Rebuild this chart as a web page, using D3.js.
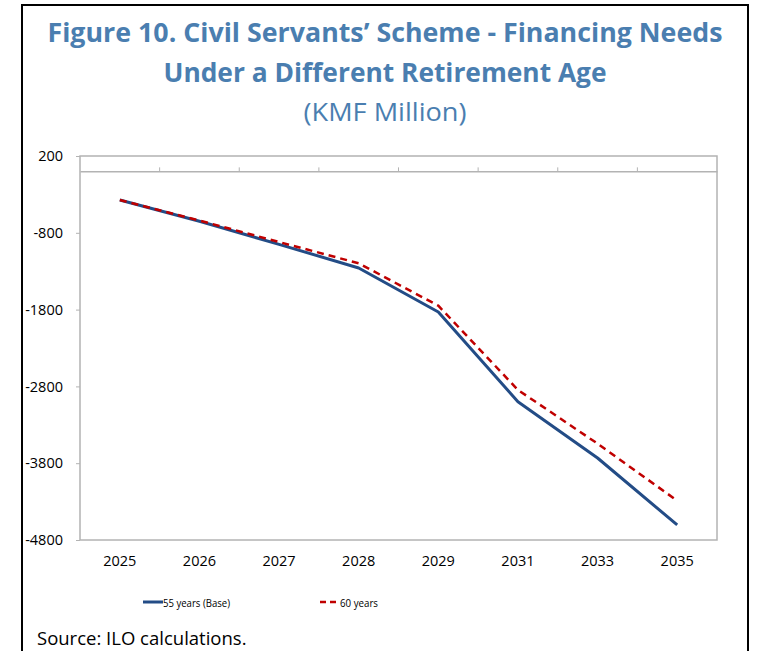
<!DOCTYPE html>
<html>
<head>
<meta charset="utf-8">
<script src="https://cdn.jsdelivr.net/npm/d3@7"></script>
<style>
  body { margin: 0; background: #fff; }
  svg { display: block; }
</style>
</head>
<body>
<div class="chart"></div>
<script>
// data
const years = ["2025", "2026", "2027", "2028", "2029", "2031", "2033", "2035"];
const base55 = [-372, -650, -950, -1258, -1831, -3000, -3732, -4604];
const age60 = [-372, -640, -920, -1197, -1749, -2846, -3545, -4288];
const y_ticks = [200, -800, -1800, -2800, -3800, -4800];

const W = 760, H = 651;
const plot = { left: 80, right: 717, top: 156, bottom: 540 };

const title_color = "#4a7eb0";
const font = "'Open Sans', 'Noto Sans', sans-serif";

const svg = d3.select(".chart")
    .append("svg")
    .attr("width", W)
    .attr("height", H);

// outer frame (bottom runs off the page)
svg.append("path")
    .attr("d", "M22,700 L22,5 L748,5 L748,700")
    .attr("fill", "none")
    .attr("stroke", "#000")
    .attr("stroke-width", 2);

// titles
const titles = [
    { text: "Figure 10. Civil Servants’ Scheme - Financing Needs", y: 42, weight: 700, size: 27, len: 675 },
    { text: "Under a Different Retirement Age", y: 82, weight: 700, size: 27, len: 443 },
    { text: "(KMF Million)", y: 121, weight: 400, size: 26, len: 163 }
];
svg.selectAll("text.title")
    .data(titles)
    .enter()
    .append("text")
    .attr("class", "title")
    .attr("x", 385)
    .attr("y", d => d.y)
    .attr("text-anchor", "middle")
    .attr("textLength", d => d.len)
    .attr("lengthAdjust", "spacingAndGlyphs")
    .style("font-family", font)
    .style("font-size", d => d.size + "px")
    .style("font-weight", d => d.weight)
    .style("fill", title_color)
    .text(d => d.text);

// scales
const x_band = d3.scaleBand()
    .domain(years)
    .range([plot.left, plot.right]);

const y_scale = d3.scaleLinear()
    .domain([-4800, 200])
    .range([plot.bottom, plot.top]);

const x_point = d => x_band(d) + x_band.bandwidth() / 2;

// plot frame
svg.append("rect")
    .attr("x", plot.left)
    .attr("y", plot.top)
    .attr("width", plot.right - plot.left)
    .attr("height", plot.bottom - plot.top)
    .attr("fill", "none")
    .attr("stroke", "#b3b3b3")
    .attr("stroke-width", 1.5);

// y axis (hyphen as minus, like the original)
const y_axis = svg.append("g")
    .attr("transform", `translate(${plot.left},0)`)
    .call(d3.axisLeft(y_scale)
        .tickValues(y_ticks)
        .tickSize(4)
        .tickPadding(13)
        .tickFormat(d => String(d)));
y_axis.select(".domain").remove();
y_axis.selectAll("line").attr("stroke", "#b3b3b3");
y_axis.selectAll("text")
    .style("font-family", font)
    .style("font-size", "14.5px")
    .style("fill", "#000");

// zero line with category ticks pointing up
const zero_axis = svg.append("g")
    .attr("transform", `translate(0,${y_scale(0)})`)
    .call(d3.axisTop(x_band).tickSize(0).tickFormat(""));
zero_axis.select(".domain")
    .attr("stroke", "#b3b3b3")
    .attr("stroke-width", 1.5);
zero_axis.selectAll(".cat_tick")
    .data(years.slice(1))
    .enter()
    .append("line")
    .attr("class", "cat_tick")
    .attr("x1", d => x_band(d))
    .attr("x2", d => x_band(d))
    .attr("y1", 0)
    .attr("y2", -4)
    .attr("stroke", "#b3b3b3");

// x labels under the plot
const x_axis = svg.append("g")
    .attr("transform", `translate(0,${plot.bottom})`)
    .call(d3.axisBottom(x_band).tickSize(0).tickPadding(16));
x_axis.select(".domain").remove();
x_axis.selectAll("text")
    .style("font-family", font)
    .style("font-size", "14.5px")
    .style("fill", "#000");

// lines
const series = [
    { name: "55 years (Base)", values: base55, color: "#234c86", dash: null, width: 3, len: 67 },
    { name: "60 years", values: age60, color: "#c00000", dash: "7,5", width: 2.5, len: 38 }
];

const line = d3.line()
    .x((d, i) => x_point(years[i]))
    .y(d => y_scale(d));

svg.selectAll("path.series")
    .data(series)
    .enter()
    .append("path")
    .attr("class", "series")
    .attr("d", d => line(d.values))
    .attr("fill", "none")
    .attr("stroke", d => d.color)
    .attr("stroke-width", d => d.width)
    .attr("stroke-dasharray", d => d.dash)
    .attr("stroke-linejoin", "round");

// legend
const legend_x = [143, 320];
const legend = svg.selectAll("g.legend")
    .data(series)
    .enter()
    .append("g")
    .attr("class", "legend")
    .attr("transform", (d, i) => `translate(${legend_x[i]},602)`);
legend.append("line")
    .attr("x1", 0)
    .attr("x2", 20)
    .attr("stroke", d => d.color)
    .attr("stroke-width", d => d.width)
    .attr("stroke-dasharray", d => d.dash ? "6,4" : null);
legend.append("text")
    .attr("x", 20)
    .attr("y", 4.5)
    .attr("textLength", d => d.len)
    .attr("lengthAdjust", "spacingAndGlyphs")
    .style("font-family", font)
    .style("font-size", "11.5px")
    .style("fill", "#000")
    .text(d => d.name);

// source note
svg.append("text")
    .attr("x", 37)
    .attr("y", 645)
    .style("font-family", font)
    .style("font-size", "18.5px")
    .style("fill", "#000")
    .text("Source: ILO calculations.");
</script>
</body>
</html>
